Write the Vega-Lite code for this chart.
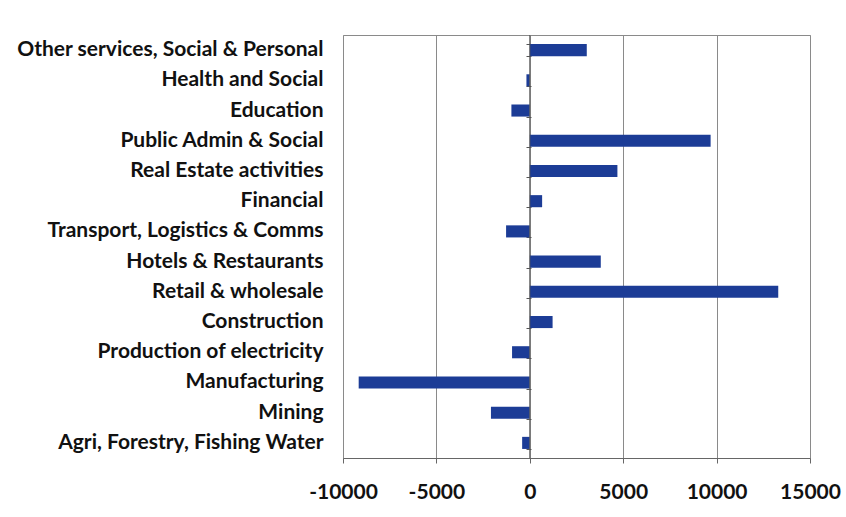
{
  "$schema": "https://vega.github.io/schema/vega-lite/v6.json",
  "width": 467,
  "height": 423,
  "autosize": {"type": "none"},
  "padding": {"left": 343, "top": 35, "right": 36, "bottom": 59},
  "background": "white",
  "config": {
    "view": {"stroke": "#8a8a8a", "strokeWidth": 1},
    "font": "Lato"
  },
  "data": {
    "values": [
      {"sector": "Other services, Social & Personal", "change": 3050},
      {"sector": "Health and Social", "change": -180},
      {"sector": "Education", "change": -985},
      {"sector": "Public Admin & Social", "change": 9680},
      {"sector": "Real Estate activities", "change": 4690},
      {"sector": "Financial", "change": 660},
      {"sector": "Transport, Logistics & Comms", "change": -1270},
      {"sector": "Hotels & Restaurants", "change": 3800},
      {"sector": "Retail & wholesale", "change": 13300},
      {"sector": "Construction", "change": 1220},
      {"sector": "Production of electricity", "change": -950},
      {"sector": "Manufacturing", "change": -9160},
      {"sector": "Mining", "change": -2080},
      {"sector": "Agri, Forestry, Fishing Water", "change": -410}
    ]
  },
  "resolve": {"axis": {"y": "independent"}},
  "layer": [
    {
      "mark": {"type": "bar", "color": "#1c3c96"},
      "encoding": {
        "y": {
          "field": "sector", "type": "nominal", "sort": null,
          "scale": {"paddingInner": 0.6, "paddingOuter": 0.3},
          "axis": {
            "title": null, "domain": false, "ticks": false, "grid": false,
            "labelFontSize": 21, "labelFont": "Lato", "labelFontWeight": "bold",
            "labelColor": "#111", "labelPadding": 20, "labelLimit": 400
          }
        },
        "x": {
          "field": "change", "type": "quantitative",
          "scale": {"domain": [-10000, 15000], "nice": false, "zero": false},
          "axis": {
            "title": null, "values": [-10000, -5000, 0, 5000, 10000, 15000],
            "labelExpr": "'' + datum.value", "labelOverlap": false, "labelFlush": false,
            "grid": true, "gridColor": "#8a8a8a", "gridOpacity": 1,
            "domain": true, "domainColor": "#666", "ticks": true, "tickColor": "#666", "tickSize": 5,
            "labelFontSize": 21, "labelFont": "Lato", "labelFontWeight": "bold",
            "labelColor": "#111", "labelPadding": 18
          }
        }
      }
    },
    {
      "mark": {"type": "tick", "opacity": 0},
      "encoding": {
        "y": {
          "field": "sector", "type": "nominal", "sort": null,
          "axis": {
            "orient": "left", "offset": -188, "title": null, "labels": false, "domain": false,
            "grid": false, "ticks": true, "tickBand": "extent", "tickSize": 5, "tickColor": "#555"
          }
        },
        "x": {"field": "change", "type": "quantitative"}
      }
    },
    {
      "mark": {"type": "rule", "color": "#555", "strokeWidth": 1},
      "data": {"values": [{"z": 0}]},
      "encoding": {"x": {"field": "z", "type": "quantitative"}}
    }
  ]
}
